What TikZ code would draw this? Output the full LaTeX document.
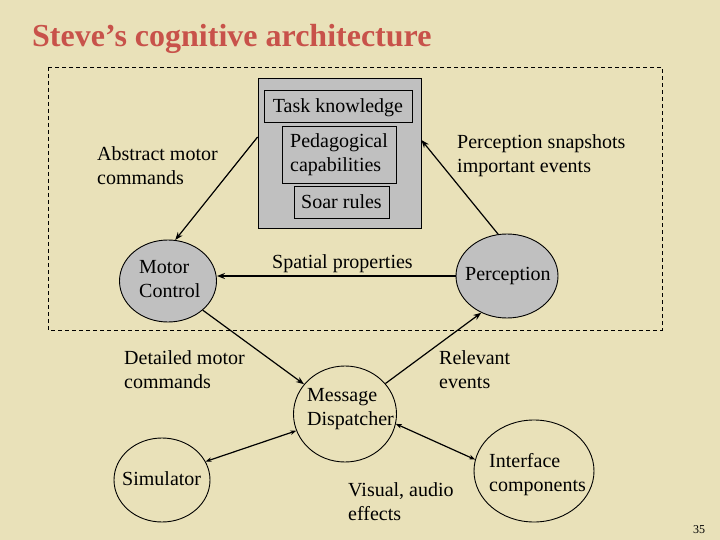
\documentclass[tikz,border=0pt]{standalone}
\usepackage{fontspec}
\setmainfont{Liberation Serif}
\usetikzlibrary{positioning,arrows.meta,calc,shapes.geometric}
\definecolor{paper}{HTML}{E9E1B9}
\definecolor{titlered}{HTML}{C8524A}
\definecolor{boxgray}{HTML}{C0C0C0}

\begin{document}
\begin{tikzpicture}[x=1pt, y=-1pt,
    txt/.style={font=\fontsize{20}{24}\selectfont, align=left, anchor=base west, inner sep=0pt},
    blob/.style={draw, ellipse, line width=0.9pt, inner sep=0pt},
    kbox/.style={draw, line width=0.8pt, fill=boxgray, inner sep=0pt,
      font=\fontsize{20}{24}\selectfont, align=left},
    flow/.style={-{Stealth[length=8pt]}, line width=1.2pt},
    both/.style={{Stealth[length=6pt]}-{Stealth[length=6pt]}, line width=1.2pt}]

        % Page
        \fill[paper] (0,0) rectangle (720,540);
        \useasboundingbox (0,0) rectangle (720,540);

        % Title
        \node[font=\fontsize{32}{36}\selectfont\bfseries, text=titlered,
          anchor=base west, inner sep=0pt] (title) at (32,47)
          {Steve’s cognitive architecture};

        % Agent boundary
        \draw[line width=0.8pt, dash pattern=on 4pt off 3pt] (48,67) rectangle (662,330);

        % Soar core
        \node[kbox, minimum width=163pt, minimum height=150pt] (core) at (339.5,153) {};
        \node[kbox, minimum width=148pt, minimum height=32pt, text depth=0pt] (task)
          at (338,106) {Task knowledge};
        \node[kbox, minimum width=114pt, minimum height=57pt] (peda)
          at (339,154.5) {Pedagogical\\capabilities};
        \node[kbox, minimum width=95pt, minimum height=32pt] (soar)
          at (341.5,202) {Soar rules};

        % Modules (text placed by its last baseline)
        \node[blob, fill=boxgray, minimum width=97pt, minimum height=82pt] (motor) at (168,281) {};
        \node[txt] (motorTxt) at (139,297) {Motor\\Control};
        \node[blob, fill=boxgray, minimum width=102pt, minimum height=84pt] (perc) at (507,276) {};
        \node[txt] (percTxt) at (465,280) {Perception};
        \node[blob, minimum width=103pt, minimum height=96pt] (disp) at (345,414) {};
        \node[txt] (dispTxt) at (307,425) {Message\\Dispatcher};
        \node[blob, minimum width=96pt, minimum height=84pt] (sim) at (162,480) {};
        \node[txt] (simTxt) at (122,485) {Simulator};
        \node[blob, minimum width=120pt, minimum height=102pt] (iface) at (534,471) {};
        \node[txt] (ifaceTxt) at (489,491) {Interface\\components};

        % Labels
        \node[txt] (absCmd) at (97,185) {Abstract motor\\commands};
        \node[txt] (snapLbl) at (457,173) {Perception snapshots\\important events};
        \node[txt] (spatialLbl) at (272,268) {Spatial properties};
        \node[txt] (detCmd) at (124,388) {Detailed motor\\commands};
        \node[txt] (relLbl) at (439,388) {Relevant\\events};
        \node[txt] (visLbl) at (348,520) {Visual, audio\\effects};
        \node[font=\fontsize{12}{14}\selectfont, anchor=base west, inner sep=0pt]
          (pageNo) at (693,533) {35};

        % Connections
        \draw[flow] ([yshift=16pt]core.west) -- (motor.80);
        \draw[flow] (perc.102) -- ([yshift=13pt]core.east);
        \draw[flow] (perc.west) -- (perc.west -| motor.east);
        \draw[flow] (motor.-40) -- (disp.144);
        \draw[flow] (disp.37) -- (perc.-125);
        \draw[both] (sim.23) -- (disp.-161);
        \draw[both] (disp.-11) -- (iface.169);
      \end{tikzpicture}
\end{document}
